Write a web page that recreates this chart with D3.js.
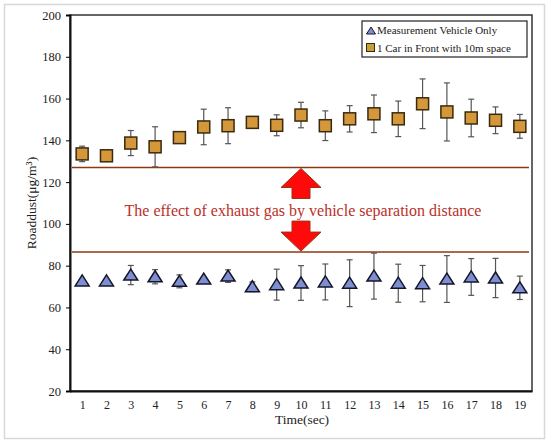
<!DOCTYPE html>
<html lang="en">
<head>
<meta charset="utf-8">
<title>Roaddust</title>
<script src="https://d3js.org/d3.v7.min.js"></script>
<style>
  body { margin: 0; background: white; }
</style>
</head>
<body>
<svg></svg>
<script>
// time steps (sec)
const times = d3.range(1, 20);

// Measurement Vehicle Only
const soloMean = [72.7, 72.7, 75.5, 74.7, 72.5, 73.6, 75.0, 69.9, 70.9, 71.7,
                  72.2, 71.6, 75.0, 71.6, 71.4, 73.6, 74.6, 74.1, 69.4];
const soloErr  = [0, 0, 4.6, 3.4, 3.1, 0, 3.0, 2.3, 7.4, 8.3,
                  8.6, 11.2, 11.0, 9.1, 8.7, 11.2, 8.8, 9.4, 5.6];

// 1 Car in Front with 10m space
const carMean = [133.5, 132.6, 138.7, 136.9, 141.3, 146.4, 147.0, 148.6, 147.2, 152.1,
                 147.0, 150.3, 152.7, 150.3, 157.5, 153.6, 150.7, 149.6, 146.7];
const carErr  = [3.7, 0, 6.0, 9.6, 2.7, 8.5, 8.6, 2.0, 5.0, 6.1,
                 7.1, 6.3, 9.0, 8.5, 11.9, 13.9, 9.0, 6.4, 5.7];

const yTicks = d3.range(20, 201, 20);
const refLines = [127, 86.5];
const arrowAt = 10;
const legendLabels = ["Measurement Vehicle Only", "1 Car in Front with 10m space"];
const note = "The effect of exhaust gas by vehicle separation distance";

const FONT = "Liberation Serif, Times New Roman, serif";
const W = 550, H = 445;
const svg = d3.select("svg").attr("width", W).attr("height", H)
  .attr("font-family", FONT);

// outer frame
svg.append("rect")
  .attr("x", 4.5).attr("y", 4.5).attr("width", 540).attr("height", 434)
  .attr("fill", "white").attr("stroke", "#d8d8d8").attr("stroke-width", 1.5);

const x = d3.scaleLinear().domain([0.5, 19.5]).range([70, 532]);
const y = d3.scaleLinear().domain([20, 200]).range([391, 15]);

// plot border (top / right)
svg.append("rect")
  .attr("x", x.range()[0]).attr("y", y.range()[1])
  .attr("width", x.range()[1] - x.range()[0])
  .attr("height", y.range()[0] - y.range()[1])
  .attr("fill", "none").attr("stroke", "#333").attr("stroke-width", 1.5);

// y axis
const yAxis = svg.append("g")
  .attr("transform", `translate(${x.range()[0]},0)`)
  .call(d3.axisLeft(y).tickValues(yTicks).tickSize(4).tickPadding(5))
  .attr("font-family", FONT).attr("font-size", 12.5);
yAxis.select(".domain").attr("stroke", "#111").attr("stroke-width", 2);
yAxis.selectAll("text").attr("fill", "#222");

// x axis
const xAxis = svg.append("g")
  .attr("transform", `translate(0,${y.range()[0]})`)
  .call(d3.axisBottom(x).tickValues(times).tickSize(0).tickPadding(9).tickSizeOuter(0))
  .attr("font-family", FONT).attr("font-size", 12);
xAxis.select(".domain").attr("stroke", "#111").attr("stroke-width", 2);
xAxis.selectAll("text").attr("fill", "#222");

// axis titles
svg.append("text")
  .attr("x", 302).attr("y", 424)
  .attr("text-anchor", "middle")
  .attr("font-size", 13.5).attr("fill", "#222")
  .text("Time(sec)");

svg.append("text")
  .attr("transform", "translate(36,203) rotate(-90)")
  .attr("text-anchor", "middle")
  .attr("font-size", 13.5).attr("fill", "#222")
  .text("Roaddust(μg/m³)");

// reference lines
svg.selectAll(".ref")
  .data(refLines)
  .enter().append("line")
  .attr("x1", x.range()[0] + 2).attr("x2", x.range()[1] - 3)
  .attr("y1", d => y(d)).attr("y2", d => y(d))
  .attr("stroke", "#8b3a12").attr("stroke-width", 1.5);

// arrows
const ax = x(arrowAt);
const up = [[0, 0], [20, 19], [9, 19], [9, 30], [-9, 30], [-9, 19], [-20, 19]];
svg.append("polygon")
  .attr("points", up.map(p => [ax + p[0], y(refLines[0]) + 1 + p[1]].join(",")).join(" "))
  .attr("fill", "#ff0a0a").attr("stroke", "#9a3414").attr("stroke-width", 1);
svg.append("polygon")
  .attr("points", up.map(p => [ax + p[0], y(refLines[1]) - 1 - p[1]].join(",")).join(" "))
  .attr("fill", "#ff0a0a").attr("stroke", "#9a3414").attr("stroke-width", 1);

svg.append("text")
  .attr("x", 303).attr("y", 216)
  .attr("text-anchor", "middle")
  .attr("font-size", 16)
  .attr("fill", "#bb3028")
  .text(note);

// error bars
function errorBars(mean, err) {
  const g = svg.append("g").attr("stroke", "#555").attr("stroke-width", 1.2);
  const data = times.map((t, i) => ({t, m: mean[i], e: err[i]})).filter(d => d.e > 0);
  g.selectAll(".v").data(data).enter().append("line")
    .attr("x1", d => x(d.t)).attr("x2", d => x(d.t))
    .attr("y1", d => y(d.m + d.e)).attr("y2", d => y(d.m - d.e));
  g.selectAll(".ct").data(data).enter().append("line")
    .attr("x1", d => x(d.t) - 3).attr("x2", d => x(d.t) + 3)
    .attr("y1", d => y(d.m + d.e)).attr("y2", d => y(d.m + d.e));
  g.selectAll(".cb").data(data).enter().append("line")
    .attr("x1", d => x(d.t) - 3).attr("x2", d => x(d.t) + 3)
    .attr("y1", d => y(d.m - d.e)).attr("y2", d => y(d.m - d.e));
}
errorBars(carMean, carErr);
errorBars(soloMean, soloErr);

const tri = "M0,-6 L7,5 L-7,5 Z";
const sq = 12;

svg.append("g").selectAll("path")
  .data(times)
  .enter().append("path")
  .attr("d", tri)
  .attr("transform", (d, i) => `translate(${x(d)},${y(soloMean[i])})`)
  .attr("fill", "#7d8fd0").attr("stroke", "#15152a").attr("stroke-width", 1.5);

svg.append("g").selectAll("rect")
  .data(times)
  .enter().append("rect")
  .attr("x", d => x(d) - sq / 2)
  .attr("y", (d, i) => y(carMean[i]) - sq / 2)
  .attr("width", sq).attr("height", sq)
  .attr("fill", "#d4973a").attr("stroke", "#3a2a10").attr("stroke-width", 1.5);

// legend
const lg = svg.append("g").attr("transform", "translate(362,21)");
lg.append("rect").attr("width", 165).attr("height", 36)
  .attr("fill", "white").attr("stroke", "#222").attr("stroke-width", 1.2);
lg.append("path").attr("d", "M0,-4 L4.5,3 L-4.5,3 Z")
  .attr("transform", "translate(9,10)")
  .attr("fill", "#7d8fd0").attr("stroke", "#15152a").attr("stroke-width", 1);
lg.append("rect").attr("x", 4.5).attr("y", 22.5).attr("width", 8).attr("height", 8)
  .attr("fill", "#c4a035").attr("stroke", "#3a2a10").attr("stroke-width", 1);
lg.selectAll("text").data(legendLabels).enter().append("text")
  .attr("x", 15).attr("y", (d, i) => 13 + i * 18)
  .attr("font-size", 11).attr("fill", "#222")
  .text(d => d);
</script>
</body>
</html>
